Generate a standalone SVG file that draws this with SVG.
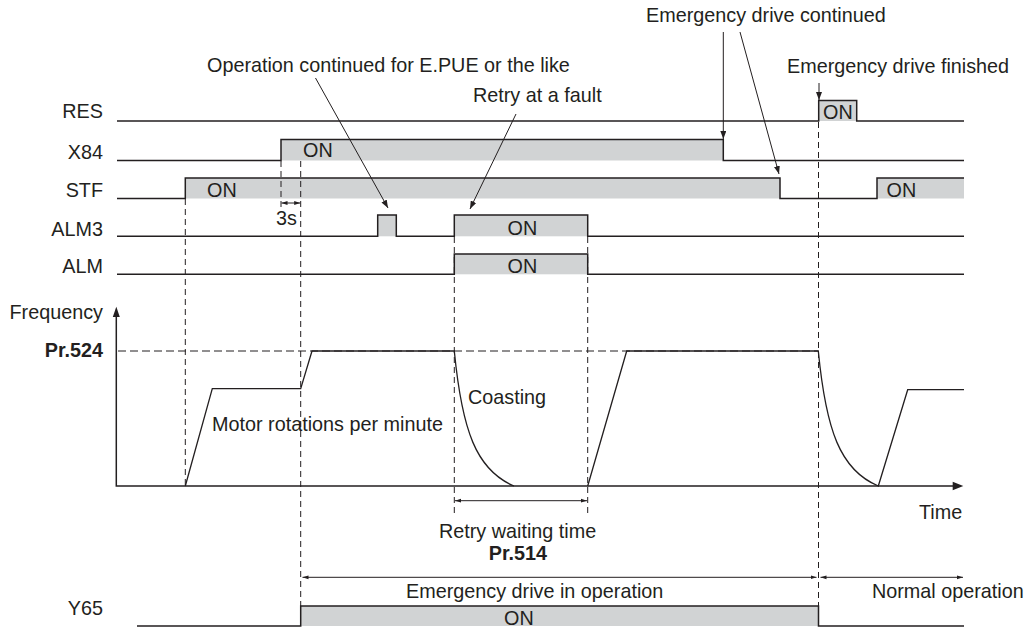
<svg xmlns="http://www.w3.org/2000/svg" width="1028" height="630" viewBox="0 0 1028 630">
<defs>
<style>
text{font-family:"Liberation Sans",Arial,Helvetica,sans-serif;font-size:19.8px;fill:#231f20}
.b{font-weight:bold}
.end{text-anchor:end}
.sig{fill:none;stroke:#231f20;stroke-width:1.5}
.on{fill:#d1d3d4;stroke:none}
.dash{fill:none;stroke:#231f20;stroke-width:1;stroke-dasharray:6 4}
.hdash{fill:none;stroke:#231f20;stroke-width:1;stroke-dasharray:8 4}
.ax{fill:none;stroke:#231f20;stroke-width:1.5}
.curve{fill:none;stroke:#231f20;stroke-width:1.3}
.ann{fill:none;stroke:#231f20;stroke-width:1;marker-end:url(#ah)}
.dim{fill:none;stroke:#231f20;stroke-width:1;marker-start:url(#dh);marker-end:url(#dh)}
.head{fill:#231f20}
</style>
<marker id="ah" markerUnits="userSpaceOnUse" markerWidth="9" markerHeight="6" refX="8" refY="3" orient="auto"><path d="M0,0 L8,3 L0,6 z" fill="#231f20"/></marker>
<marker id="dh" markerUnits="userSpaceOnUse" markerWidth="7" markerHeight="5" refX="6" refY="2.5" orient="auto-start-reverse"><path d="M0,0.6 L6,2.5 L0,4.4 z" fill="#231f20"/></marker>
</defs>
<rect width="1028" height="630" fill="#ffffff"/>

<g id="sig-RES">
<rect class="on" x="818.7" y="100.5" width="38" height="20.5"/>
<path class="sig" d="M117,121 H818.7 V100.5 H856.7 V121 H964"/>
<text class="end" x="103" y="118">RES</text>
<text x="823" y="119">ON</text>
</g>
<g id="sig-X84">
<rect class="on" x="281" y="139.5" width="442.3" height="21"/>
<path class="sig" d="M117,160.5 H281 V139.5 H723.3 V160.5 H964"/>
<text class="end" x="103" y="158.5">X84</text>
<text x="303" y="157">ON</text>
</g>
<g id="sig-STF">
<rect class="on" x="185.3" y="178" width="594.7" height="20.5"/>
<rect class="on" x="877" y="178" width="87" height="20.5"/>
<path class="sig" d="M117,198.5 H185.3 V178 H780 V198.5 H877 V178 H964"/>
<text class="end" x="103" y="197">STF</text>
<text x="207" y="196.5">ON</text>
<text x="886.5" y="196.5">ON</text>
</g>
<g id="sig-ALM3">
<rect class="on" x="377.7" y="215" width="18.6" height="21.3"/>
<rect class="on" x="454.3" y="215" width="133.4" height="21.3"/>
<path class="sig" d="M117,236.3 H377.7 V215 H396.3 V236.3 H454.3 V215 H587.7 V236.3 H964"/>
<text class="end" x="103" y="235.5">ALM3</text>
<text x="507.5" y="234.5">ON</text>
</g>
<g id="sig-ALM">
<rect class="on" x="454.3" y="254" width="133.4" height="20.3"/>
<path class="sig" d="M117,274.3 H454.3 V254 H587.7 V274.3 H964"/>
<text class="end" x="103" y="273">ALM</text>
<text x="507.5" y="272.5">ON</text>
</g>
<g id="freq-graph">
<path class="ax" d="M116.3,316 V486 H954"/>
<polygon class="head" points="116.3,306.7 112.8,317 119.8,317"/>
<polygon class="head" points="963.3,486 952.7,481.8 952.7,490.2"/>
<text class="end" x="103" y="319">Frequency</text>
<text class="end b" x="103" y="357">Pr.524</text>
<text x="919" y="519">Time</text>
<path class="hdash" d="M118,351 H818"/>
<path class="curve" d="M185.3,486 L212.3,388.7 H300.7 L312,351 H454.3 C462,430 476,470 514,486 M587.7,486 L626.7,351 H818.3 C826,430 840,470 878.3,486 L907.7,389.7 H964"/>
<text x="212" y="431">Motor rotations per minute</text>
<text x="468" y="404">Coasting</text>
</g>
<g id="sig-Y65">
<rect class="on" x="300.7" y="606" width="517.8" height="20"/>
<path class="sig" d="M137,626 H300.7 V606 H818.5 V626 H964"/>
<text class="end" x="103" y="615">Y65</text>
<text x="504" y="625">ON</text>
</g>
<g id="annotations">
<text x="646" y="22">Emergency drive continued</text>
<text x="207" y="72">Operation continued for E.PUE or the like</text>
<text x="787" y="73">Emergency drive finished</text>
<text x="473" y="102">Retry at a fault</text>
<text x="276" y="225">3s</text>
<text x="439" y="538">Retry waiting time</text>
<text class="end b" x="547" y="560">Pr.514</text>
<text x="406" y="598">Emergency drive in operation</text>
<text x="872" y="598">Normal operation</text>
</g>
<g id="connectors">
<path class="dash" d="M185.3,199 V486"/>
<path class="dash" d="M281,161 V207"/>
<path class="dash" d="M300.7,161 V606"/>
<path class="dash" d="M454.3,237 V515"/>
<path class="dash" d="M587.7,237 V515"/>
<path class="dash" d="M818.5,122 V606"/>
<path class="dim" d="M281.5,203 H300.2"/>
<path class="dim" d="M455,500.7 H587"/>
<path class="dim" d="M302.5,577.3 H816.5"/>
<path class="dim" d="M820.5,577.3 H963"/>
<path class="ann" d="M315.5,78 L388,208"/>
<path class="ann" d="M516,114 L470,209"/>
<path class="ann" d="M723.3,32 V139"/>
<path class="ann" d="M740,32 L779,174"/>
<path class="ann" d="M819,83 V100"/>
</g>
</svg>
